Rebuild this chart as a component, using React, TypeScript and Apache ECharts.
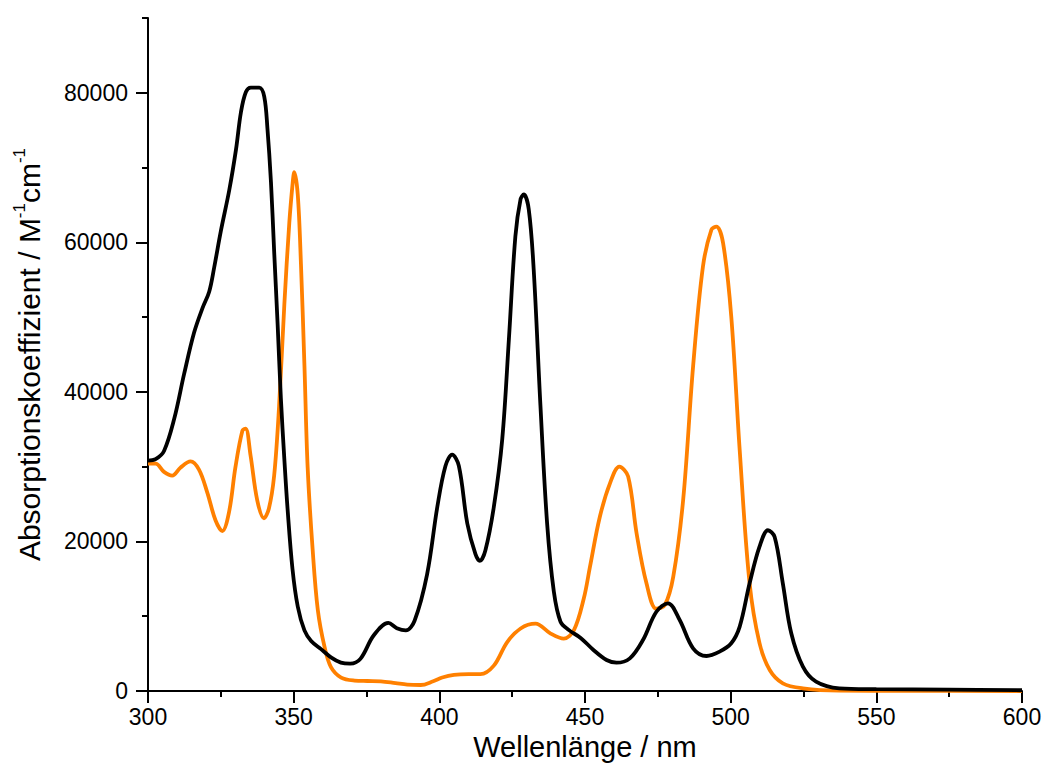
import React, { useEffect, useRef } from "react";
import * as echarts from "echarts";

const xTicks = [300, 350, 400, 450, 500, 550, 600];
const yTicks = [0, 20000, 40000, 60000, 80000];

const blackWavelength = [
  300, 302.6, 305.5, 309, 312.4, 315.8, 318.7, 321, 322.7, 325, 327.9, 330.2, 331.9, 333.6, 335.3,
  338.2, 339.9, 341, 342.2, 343.3, 344.5, 345.6, 346.8, 347.9, 349.6, 351.4, 353.7, 356, 359.4,
  362.8, 366.2, 369.4, 372.9, 377.5, 382.5, 385.4, 388.5, 391.5, 395.8, 399.3, 402.1, 404.4, 406.7,
  409.6, 412.4, 413.9, 415.8, 418.7, 421.6, 423.9, 426.1, 427.9, 429, 430.7, 432.4, 434.7, 437,
  439.3, 441.6, 444.5, 448.5, 452.9, 457.4, 460.8, 465.4, 469.9, 474.5, 478.5, 482.5, 487.1, 491.7,
  496.2, 500.2, 503.1, 506.5, 509.9, 512.8, 515.1, 517.9, 520.8, 524.8, 529.3, 537.3, 550, 575, 600,
];
const blackAbs = [
  30800, 31000, 32100, 36400, 42400, 47900, 51200, 53400, 56600, 61500, 67000, 72400, 77400, 80100,
  80700, 80700, 79500, 75200, 68100, 58800, 49000, 39200, 31000, 24400, 16300, 11300, 8100, 6700,
  5600, 4500, 3800, 3660, 4300, 7460, 9100, 8400, 8100, 9400, 15600, 24600, 30100, 31600, 30100,
  22400, 18300, 17400, 18800, 24600, 33700, 47200, 60800, 65800, 66400, 64400, 56300, 38200, 22400,
  13300, 9270, 8140, 7100, 5490, 4150, 3790, 4370, 6820, 10600, 11730, 9500, 5710, 4680, 5260, 6380,
  8610, 14400, 19300, 21500, 20600, 14400, 7720, 3260, 1250, 360, 250, 180, 100,
];

const orangeWavelength = [
  300, 302.6, 305.5, 308.3, 311.2, 314.6, 317.5, 320.3, 323.2, 325.5, 327.8, 330, 332.4, 333.5,
  335.2, 337.5, 339.8, 341.5, 343.3, 345, 346.8, 348.5, 349.7, 350.2, 351.4, 352.5, 353.7, 354.8,
  356.5, 358.3, 360.6, 362.8, 366.3, 370.9, 375.3, 379.9, 385, 389, 393.6, 397.9, 401, 405, 410,
  414.1, 418.7, 423.3, 427.9, 433, 438.2, 442.7, 446.2, 449.6, 451.7, 455.1, 458.6, 461.8, 464.8,
  467.7, 471.1, 474.5, 477.4, 480.3, 483.7, 487.1, 490.5, 493.4, 495.1, 497.4, 500.2, 503.1, 506.5,
  509.9, 513.4, 517.9, 524.8, 537.3, 560, 600,
];
const orangeAbs = [
  30400, 30400, 29300, 28800, 29900, 30700, 29600, 26600, 22800, 21400, 23900, 29900, 34800, 35100,
  31500, 25500, 23100, 24400, 28800, 38100, 51700, 62600, 68100, 69400, 66400, 57100, 43500, 29900,
  19000, 10800, 5900, 3200, 1800, 1400, 1340, 1300, 1050, 850, 800, 1300, 1800, 2150, 2250, 2250,
  3390, 6550, 8360, 9000, 7680, 7000, 8140, 12400, 16600, 23300, 27800, 30000, 28700, 21100, 14400,
  11000, 11500, 15300, 25600, 43400, 56800, 61700, 62100, 59900, 50100, 32200, 14400, 6400, 2800,
  1030, 360, 50, 20, 0,
];

const FONT = "'Liberation Sans', Arial, sans-serif";

export default function App() {
  const ref = useRef<HTMLDivElement>(null);

  useEffect(() => {
    if (!ref.current) return;
    const chart = echarts.init(ref.current, null, { renderer: "svg" });
    const pairs = (xs: number[], ys: number[]) => xs.map((x, i) => [x, ys[i]]);
    const axisLine = { show: true, onZero: false, lineStyle: { color: "#000", width: 2 } };
    chart.setOption({
      animation: false,
      backgroundColor: "#fff",
      textStyle: { fontFamily: FONT },
      grid: { left: 148, right: 24, top: 18, bottom: 76, containLabel: false },
      xAxis: {
        type: "value",
        min: 300,
        max: 600,
        interval: 50,
        axisLine,
        axisTick: { show: true, inside: false, length: 12, lineStyle: { color: "#000", width: 2 } },
        minorTick: { show: true, splitNumber: 2, length: 6, lineStyle: { color: "#000", width: 2 } },
        axisLabel: {
          color: "#000",
          fontSize: 23,
          fontFamily: FONT,
          margin: 14,
          formatter: (v: number) => (xTicks.includes(v) ? String(v) : ""),
        },
        splitLine: { show: false },
        name: "Wellenlänge / nm",
        nameLocation: "middle",
        nameGap: 39,
        nameTextStyle: { color: "#000", fontSize: 29, fontFamily: FONT },
      },
      yAxis: [
        {
          type: "value",
          min: 0,
          max: 90000,
          interval: 10000,
          position: "left",
          axisLine,
          axisTick: { show: true, inside: false, length: 6, lineStyle: { color: "#000", width: 2 } },
          axisLabel: {
            color: "#000",
            fontSize: 23,
            fontFamily: FONT,
            margin: 20,
            formatter: (v: number) => (yTicks.includes(v) ? String(v) : ""),
          },
          splitLine: { show: false },
          name: "Absorptionskoeffizient / M{sup|-1}cm{sup|-1}",
          nameLocation: "middle",
          nameGap: 101,
          nameTextStyle: {
            color: "#000",
            fontSize: 30,
            fontFamily: FONT,
            lineHeight: 36,
            rich: {
              sup: { fontSize: 17, fontFamily: FONT, color: "#000", verticalAlign: "top", lineHeight: 36 },
            },
          },
        },
        {
          type: "value",
          min: 0,
          max: 90000,
          position: "left",
          axisLine: { show: false },
          axisTick: {
            show: true,
            inside: false,
            length: 12,
            customValues: yTicks,
            lineStyle: { color: "#000", width: 2 },
          },
          axisLabel: { show: false },
          splitLine: { show: false },
        },
      ],
      series: [
        {
          type: "line",
          name: "orange",
          data: pairs(orangeWavelength, orangeAbs),
          showSymbol: false,
          smooth: 0.35,
          lineStyle: { color: "#FF8000", width: 3.8 },
          z: 2,
        },
        {
          type: "line",
          name: "black",
          data: pairs(blackWavelength, blackAbs),
          showSymbol: false,
          smooth: 0.35,
          lineStyle: { color: "#000", width: 3.8 },
          z: 3,
        },
      ],
    });
    return () => chart.dispose();
  }, []);

  return (
    <div
      ref={ref}
      style={{ position: "fixed", left: 0, top: 0, width: 1046, height: 767, background: "#fff" }}
    />
  );
}
